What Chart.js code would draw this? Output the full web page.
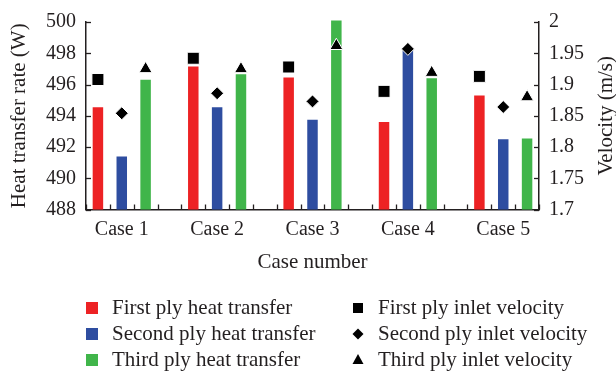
<!DOCTYPE html>
<html><head><meta charset="utf-8">
<script src="https://cdn.jsdelivr.net/npm/chart.js@4/dist/chart.umd.min.js"></script>
<style>html,body{margin:0;padding:0;background:#fff;}#wrap{position:relative;width:616px;height:377px;}</style>
</head><body><div id="wrap"><canvas id="c" width="616" height="377"></canvas></div>
<script>
// ---- data ----
const categories = ['Case 1', 'Case 2', 'Case 3', 'Case 4', 'Case 5'];
const caseNumbers = [1, 2, 3, 4, 5];
const firstPlyHeat  = [494.55, 497.15, 496.45, 493.6, 495.3];
const secondPlyHeat = [491.4, 494.55, 493.75, 498.2, 492.5];
const thirdPlyHeat  = [496.3, 496.65, 500.1, 496.4, 492.55];
const firstPlyVel   = [1.908, 1.942, 1.928, 1.889, 1.913];
const secondPlyVel  = [1.854, 1.886, 1.873, 1.957, 1.864];
const thirdPlyVel   = [1.925, 1.925, 1.962, 1.919, 1.880];
const heatTicks = [488, 490, 492, 494, 496, 498, 500];
const velTicks  = [1.7, 1.75, 1.8, 1.85, 1.9, 1.95, 2];
const heatLabels = ['First ply heat transfer', 'Second ply heat transfer', 'Third ply heat transfer'];
const velLabels  = ['First ply inlet velocity', 'Second ply inlet velocity', 'Third ply inlet velocity'];

// ---- style ----
const INK = '#231f20';
const FONT = "'Liberation Serif', 'Times New Roman', serif";
const barColors = ['#ED2224', '#2E4DA0', '#40B54A'];
const markerStyles = ['rect', 'rectRot', 'triangle'];
const markerRadius = [8.5, 6.5, 7.5];
const CAT_PCT = 0.75;
const SLOT = CAT_PCT / 3;

const heatSeries = [firstPlyHeat, secondPlyHeat, thirdPlyHeat];
const velSeries = [firstPlyVel, secondPlyVel, thirdPlyVel];

const datasets = [];
heatSeries.forEach((arr, s) => {
  datasets.push({
    type: 'bar', label: heatLabels[s], yAxisID: 'y', order: 2,
    clip: {left: 0, right: 0, bottom: 0, top: 10},
    data: arr.map((v, i) => ({x: caseNumbers[i], y: v})),
    backgroundColor: barColors[s], borderWidth: 0,
    categoryPercentage: CAT_PCT, barPercentage: 0.44
  });
});
velSeries.forEach((arr, s) => {
  datasets.push({
    type: 'line', label: velLabels[s], yAxisID: 'y1', order: 0, showLine: false,
    data: arr.map((v, i) => ({x: caseNumbers[i] + (s - 1) * SLOT, y: v})),
    pointStyle: markerStyles[s], pointRadius: markerRadius[s],
    pointBackgroundColor: '#000', pointBorderColor: '#fff', pointBorderWidth: 1
  });
});

const extras = {
  id: 'extras',
  afterDraw(chart) {
    const {ctx, chartArea: ca, scales} = chart;
    ctx.save();
    ctx.strokeStyle = INK; ctx.lineWidth = 1.3;
    const line = (x1, y1, x2, y2) => { ctx.beginPath(); ctx.moveTo(x1, y1); ctx.lineTo(x2, y2); ctx.stroke(); };
    const xs = scales.x;
    for (let v = xs.min; v <= xs.max + 1e-6; v += SLOT) {
      const px = Math.round(xs.getPixelForValue(v)) + 0.5;
      line(px, ca.bottom, px, ca.bottom - 5);
    }
    scales.y.ticks.forEach(t => { const py = Math.round(scales.y.getPixelForValue(t.value)) + 0.5; line(ca.left, py, ca.left + 5, py); });
    scales.y1.ticks.forEach(t => { const py = Math.round(scales.y1.getPixelForValue(t.value)) + 0.5; line(ca.right, py, ca.right - 5, py); });
    ctx.restore();

    // right axis title (reads bottom to top)
    ctx.save();
    ctx.fillStyle = INK; ctx.font = `21px ${FONT}`;
    ctx.textAlign = 'center'; ctx.textBaseline = 'middle';
    ctx.translate(chart.width - 10, (ca.top + ca.bottom) / 2);
    ctx.rotate(-Math.PI / 2);
    ctx.fillText('Velocity (m/s)', 0, 0);
    ctx.restore();

    // legend
    ctx.save();
    ctx.font = `21px ${FONT}`; ctx.fillStyle = INK; ctx.textBaseline = 'alphabetic'; ctx.textAlign = 'left';
    const rows = [314, 340, 366];
    heatLabels.forEach((lab, s) => {
      const b = rows[s];
      ctx.fillStyle = barColors[s];
      ctx.fillRect(86, b - 12, 12, 12);
      ctx.fillStyle = INK;
      ctx.fillText(lab, 112, b);
    });
    velLabels.forEach((lab, s) => {
      const b = rows[s];
      const cx = 358, cy = b - 6;
      ctx.fillStyle = '#000';
      ctx.beginPath();
      if (s === 0) { ctx.rect(cx - 5, cy - 5, 10, 10); }
      else if (s === 1) { ctx.moveTo(cx, cy - 5.5); ctx.lineTo(cx + 5.5, cy); ctx.lineTo(cx, cy + 5.5); ctx.lineTo(cx - 5.5, cy); ctx.closePath(); }
      else { ctx.moveTo(cx, cy - 6); ctx.lineTo(cx + 5.5, cy + 4); ctx.lineTo(cx - 5.5, cy + 4); ctx.closePath(); }
      ctx.fill();
      ctx.fillStyle = INK;
      ctx.fillText(lab, 378, b);
    });
    ctx.restore();
  }
};

new Chart(document.getElementById('c'), {
  type: 'bar',
  data: {datasets},
  plugins: [extras],
  options: {
    responsive: false, animation: false, devicePixelRatio: 1, events: [],
    layout: {padding: {top: 20, left: 0, right: 0, bottom: 0}},
    plugins: {legend: {display: false}, tooltip: {enabled: false}},
    scales: {
      x: {
        type: 'linear', position: 'bottom', offset: false,
        min: caseNumbers[0] - CAT_PCT / 2, max: caseNumbers[caseNumbers.length - 1] + CAT_PCT / 2,
        afterBuildTicks: s => { s.ticks = caseNumbers.map(v => ({value: v})); },
        ticks: {autoSkip: false, maxRotation: 0, padding: 8, color: INK, font: {family: FONT, size: 20},
          callback: v => categories[caseNumbers.indexOf(v)] || ''},
        grid: {display: false, drawTicks: false},
        border: {display: true, color: INK, width: 1.5},
        title: {display: true, text: 'Case number', color: INK, font: {family: FONT, size: 21}, padding: {top: 0, bottom: 102}},
        afterFit: s => { s.height = 167.5; }
      },
      y: {
        position: 'left', min: 488, max: 500,
        afterBuildTicks: s => { s.ticks = heatTicks.map(v => ({value: v})); },
        ticks: {padding: 10, color: INK, font: {family: FONT, size: 20}},
        grid: {display: false, drawTicks: false},
        border: {display: true, color: INK, width: 1.5},
        title: {display: true, text: 'Heat transfer rate (W)', color: INK, font: {family: FONT, size: 21}, padding: {top: 7, bottom: 0}},
        afterFit: s => { s.width = 86; }
      },
      y1: {
        position: 'right', min: 1.7, max: 2,
        afterBuildTicks: s => { s.ticks = velTicks.map(v => ({value: v})); },
        ticks: {padding: 10, color: INK, font: {family: FONT, size: 20}, callback: v => String(parseFloat(v.toFixed(2)))},
        grid: {display: false, drawTicks: false},
        border: {display: true, color: INK, width: 1.5},
        afterFit: s => { s.width = 77; }
      }
    }
  }
});
</script></body></html>
